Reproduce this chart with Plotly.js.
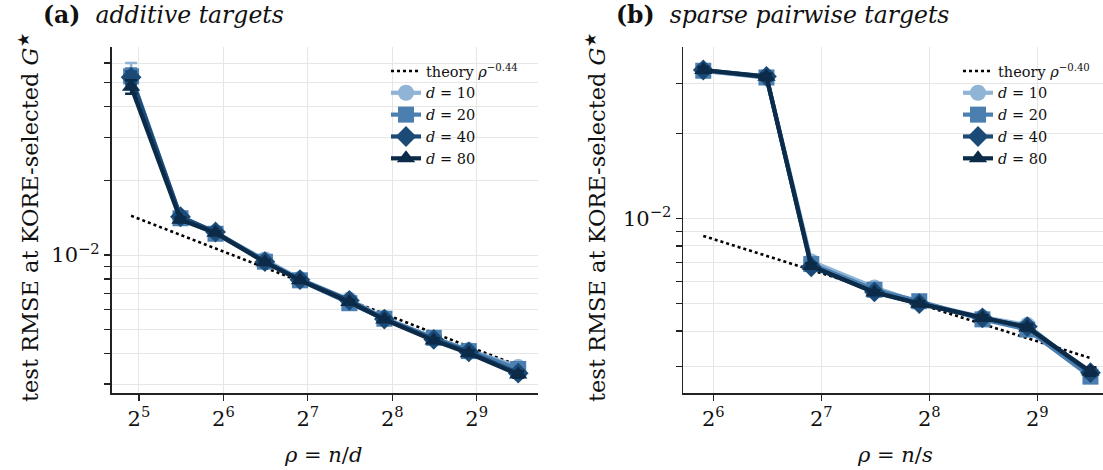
<!DOCTYPE html>
<html><head><meta charset="utf-8">
<script src="https://cdn.plot.ly/plotly-3.0.1.min.js"></script>
<style>html,body{margin:0;padding:0;background:#fff;}</style>
</head><body>
<div id="chart" style="width:1103px;height:470px;"></div>
<script>
// ---------- data ----------
const rhoA = [30, 45, 60, 90, 120, 180, 240, 360, 480, 720];
const a_d10 = [0.0535, 0.0143, 0.0123, 0.0096, 0.00800, 0.00660, 0.00557, 0.00460, 0.00412, 0.00352];
const a_d20 = [0.0530, 0.0141, 0.0122, 0.0094, 0.00790, 0.00638, 0.00552, 0.00462, 0.00408, 0.00345];
const a_d40 = [0.0525, 0.0143, 0.0124, 0.0094, 0.00795, 0.00655, 0.00550, 0.00455, 0.00405, 0.00332];
const a_d80 = [0.0481, 0.0139, 0.0123, 0.00935, 0.00790, 0.00645, 0.00548, 0.00450, 0.00400, 0.00328];
const a_err10 = [0.0065, 0.0004, 0.0003, 0.0002, 0.00015, 0.00012, 0.0001, 0.0001, 0.0001, 0.0001];
const a_err20 = [0.0040, 0.0003, 0.0002, 0.0002, 0.00015, 0.00012, 0.0001, 0.0001, 0.0001, 0.0001];
const a_err40 = [0.0030, 0.0003, 0.0002, 0.0002, 0.00015, 0.00012, 0.0001, 0.0001, 0.0001, 0.0001];
const a_err80 = [0.0030, 0.0003, 0.0002, 0.0002, 0.00015, 0.00012, 0.0001, 0.0001, 0.0001, 0.0001];
const a_theory = [0.01443, 0.01207, 0.01064, 0.00890, 0.00784, 0.00656, 0.00578, 0.00484, 0.00426, 0.00356];

const rhoB = [60, 90, 120, 180, 240, 360, 480, 720];
const b_d10 = [0.0332, 0.0318, 0.00705, 0.00570, 0.00505, 0.00448, 0.00420, 0.00280];
const b_d20 = [0.0333, 0.0315, 0.00690, 0.00560, 0.00510, 0.00440, 0.00405, 0.00276];
const b_d40 = [0.0335, 0.0318, 0.00675, 0.00550, 0.00500, 0.00445, 0.00415, 0.00285];
const b_d80 = [0.0335, 0.0317, 0.00680, 0.00548, 0.00500, 0.00445, 0.00412, 0.00288];
const b_err = [0.0008, 0.0008, 0.00015, 0.0001, 0.0001, 0.0001, 0.0001, 0.0001];
const b_theory = [0.00868, 0.00738, 0.00658, 0.00559, 0.00499, 0.00424, 0.00378, 0.00321];

const dLabels = ['10', '20', '40', '80'];
const colors = ['#8fb4d6', '#4a7fb0', '#1b4a76', '#0c2b48'];
const symbols = ['circle', 'square', 'diamond', 'triangle-up'];

const xTickA = [32, 64, 128, 256, 512];
const xTickTextA = ['2<sup>5</sup>', '2<sup>6</sup>', '2<sup>7</sup>', '2<sup>8</sup>', '2<sup>9</sup>'];
const xTickB = [64, 128, 256, 512];
const xTickTextB = ['2<sup>6</sup>', '2<sup>7</sup>', '2<sup>8</sup>', '2<sup>9</sup>'];
const yTickA = [0.003, 0.004, 0.005, 0.006, 0.007, 0.008, 0.009, 0.01, 0.02, 0.03, 0.04, 0.05, 0.06];
const yTickB = [0.003, 0.004, 0.005, 0.006, 0.007, 0.008, 0.009, 0.01, 0.02, 0.03];

// ---------- build ----------
const FONT = 'DejaVu Serif';
const traces = [];
function theoryTrace(x, y, xa, ya, lg, label) {
  return {x: x, y: y, xaxis: xa, yaxis: ya, legend: lg, mode: 'lines', name: label,
    line: {color: '#000', width: 2.6, dash: 'dot'}, hoverinfo: 'skip'};
}
function seriesTrace(x, y, err, i, xa, ya, lg) {
  return {x: x, y: y, xaxis: xa, yaxis: ya, legend: lg, mode: 'lines+markers',
    name: '<i>d</i> = ' + dLabels[i],
    line: {color: colors[i], width: 4.2},
    marker: {symbol: symbols[i], size: 16, color: colors[i]},
    error_y: {type: 'data', array: err, visible: true, color: colors[i], thickness: 2.5, width: 6}};
}
traces.push(theoryTrace(rhoA, a_theory, 'x', 'y', 'legend', 'theory <i>ρ</i><sup>−0.44</sup>'));
const aS = [a_d10, a_d20, a_d40, a_d80];
const aE = [a_err10, a_err20, a_err40, a_err80];
for (let i = 0; i < 4; i++) traces.push(seriesTrace(rhoA, aS[i], aE[i], i, 'x', 'y', 'legend'));
traces.push(theoryTrace(rhoB, b_theory, 'x2', 'y2', 'legend2', 'theory <i>ρ</i><sup>−0.40</sup>'));
const bS = [b_d10, b_d20, b_d40, b_d80];
for (let i = 0; i < 4; i++) traces.push(seriesTrace(rhoB, bS[i], b_err, i, 'x2', 'y2', 'legend2'));

const W = 1103, H = 470;
function px(x) { return x / W; }
function py(y) { return 1 - y / H; }

const axBase = {
  type: 'log', showline: true, linecolor: '#222', linewidth: 1.8, mirror: false,
  ticks: 'outside', ticklen: 6, tickwidth: 1.3, tickcolor: '#222',
  showgrid: true, gridcolor: '#e6e6e6', gridwidth: 1, zeroline: false,
  tickfont: {family: FONT, size: 21, color: '#111'}
};
function yTT(vals) { return vals.map(v => Math.abs(v - 0.01) < 1e-9 ? '10<sup>−2</sup>' : ''); }

const legBase = {bgcolor: 'rgba(0,0,0,0)', borderwidth: 0, font: {family: FONT, size: 14.5, color: '#111'},
  xanchor: 'left', yanchor: 'top', tracegroupgap: 0, itemwidth: 30};

const ylab = 'test RMSE at KORE-selected <i>G</i><sup>★</sup>';

const layout = {
  width: W, height: H,
  margin: {l: 0, r: 0, t: 0, b: 0},
  paper_bgcolor: '#fff', plot_bgcolor: '#fff',
  showlegend: true,
  xaxis: Object.assign({}, axBase, {domain: [px(111.7), px(538.3)], anchor: 'y',
    range: [4.677 * Math.LOG10E * Math.LN2, 9.73 * Math.LOG10E * Math.LN2],
    tickmode: 'array', tickvals: xTickA, ticktext: xTickTextA}),
  yaxis: Object.assign({}, axBase, {domain: [py(393), py(47)], anchor: 'x',
    range: [Math.log10(0.00276), Math.log10(0.0697)],
    tickmode: 'array', tickvals: yTickA, ticktext: yTT(yTickA)}),
  xaxis2: Object.assign({}, axBase, {domain: [px(683.3), 1], anchor: 'y2',
    range: [5.722 * Math.LOG10E * Math.LN2, 9.608 * Math.LOG10E * Math.LN2],
    tickmode: 'array', tickvals: xTickB, ticktext: xTickTextB}),
  yaxis2: Object.assign({}, axBase, {domain: [py(393), py(47)], anchor: 'x2',
    range: [Math.log10(0.002416), Math.log10(0.0404)],
    tickmode: 'array', tickvals: yTickB, ticktext: yTT(yTickB)}),
  legend: Object.assign({}, legBase, {x: px(386), y: py(55)}),
  legend2: Object.assign({}, legBase, {x: px(958), y: py(55)}),
  annotations: [
    {text: '<b>(a)</b>  <i>additive targets</i>', xref: 'paper', yref: 'paper', x: px(41), y: py(15),
      xanchor: 'left', yanchor: 'middle', showarrow: false, font: {family: FONT, size: 23.5, color: '#111'}},
    {text: '<b>(b)</b>  <i>sparse pairwise targets</i>', xref: 'paper', yref: 'paper', x: px(614), y: py(15),
      xanchor: 'left', yanchor: 'middle', showarrow: false, font: {family: FONT, size: 23.5, color: '#111'}},
    {text: ylab, xref: 'paper', yref: 'paper', x: px(28), y: py(218),
      xanchor: 'center', yanchor: 'middle', textangle: -90, showarrow: false, font: {family: FONT, size: 22.5, color: '#111'}},
    {text: ylab, xref: 'paper', yref: 'paper', x: px(595), y: py(218),
      xanchor: 'center', yanchor: 'middle', textangle: -90, showarrow: false, font: {family: FONT, size: 22.5, color: '#111'}},
    {text: '<i>ρ</i> = <i>n</i>/<i>d</i>', xref: 'paper', yref: 'paper', x: px(323), y: py(455),
      xanchor: 'center', yanchor: 'middle', showarrow: false, font: {family: FONT, size: 21, color: '#111'}},
    {text: '<i>ρ</i> = <i>n</i>/<i>s</i>', xref: 'paper', yref: 'paper', x: px(895), y: py(455),
      xanchor: 'center', yanchor: 'middle', showarrow: false, font: {family: FONT, size: 21, color: '#111'}}
  ]
};

Plotly.newPlot('chart', traces, layout, {displayModeBar: false, staticPlot: true});
</script>
</body></html>
